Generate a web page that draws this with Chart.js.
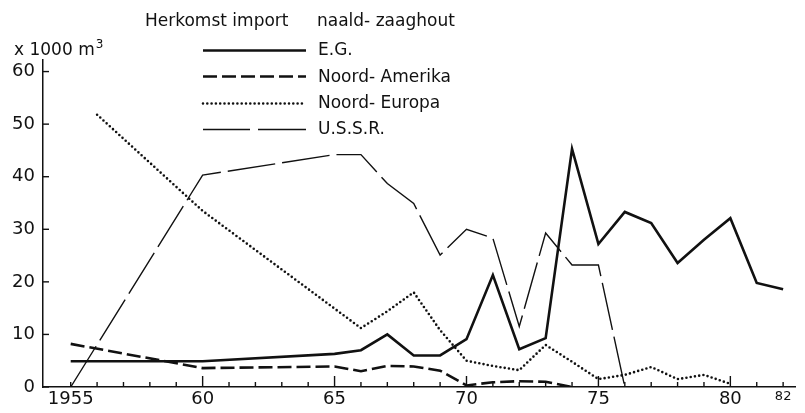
<!DOCTYPE html>
<html>
<head>
<meta charset="utf-8">
<script src="https://cdn.jsdelivr.net/npm/chart.js@4/dist/chart.umd.min.js"></script>
<style>
  html, body { margin: 0; padding: 0; background: #fff; }
  canvas { display: block; }
</style>
</head>
<body>
<canvas id="c" width="805" height="413"></canvas>
<script>
// ---- data (x 1000 m3) ----
const titleLeft = "Herkomst import";
const titleRight = "naald- zaaghout";
const yAxisLabel = "x 1000 m";
const seriesNames = ["E.G.", "Noord- Amerika", "Noord- Europa", "U.S.S.R."];

const egYears  = [1955, 1960, 1965, 1966, 1967, 1968, 1969, 1970, 1971, 1972, 1973, 1974, 1975, 1976, 1977, 1978, 1979, 1980, 1981, 1982];
const egValues = [4.9, 4.9, 6.3, 7.0, 10.0, 6.0, 6.0, 9.1, 21.3, 7.2, 9.3, 45.3, 27.2, 33.3, 31.2, 23.6, 28.0, 32.1, 19.8, 18.6];

const naYears  = [1955, 1960, 1965, 1966, 1967, 1968, 1969, 1970, 1971, 1972, 1973, 1974];
const naValues = [8.2, 3.6, 3.9, 3.0, 4.0, 3.9, 3.1, 0.3, 0.9, 1.1, 1.0, 0.0];

const neYears  = [1956, 1960, 1966, 1967, 1968, 1969, 1970, 1971, 1972, 1973, 1974, 1975, 1976, 1977, 1978, 1979, 1980];
const neValues = [51.8, 33.5, 11.2, 14.4, 18.0, 10.8, 5.0, 4.0, 3.2, 8.0, 4.8, 1.5, 2.3, 3.8, 1.5, 2.3, 0.6];

const suYears  = [1955, 1960, 1965, 1966, 1967, 1968, 1969, 1970, 1971, 1972, 1973, 1974, 1975, 1976];
const suValues = [0.0, 40.3, 44.2, 44.2, 38.7, 34.9, 25.1, 30.0, 28.3, 11.5, 29.3, 23.2, 23.2, 0.0];

const xTickYears  = [1955, 1960, 1965, 1970, 1975, 1980, 1982];
const xTickLabels = ["1955", "60", "65", "70", "75", "80", "82"];
const yTickValues = [0, 10, 20, 30, 40, 50, 60];

// ---- styles ----
const INK = '#111';
const FONT = "'DejaVu Sans', 'Liberation Sans', sans-serif";
const styles = [
  { borderWidth: 2.6, borderDash: [], borderCapStyle: 'butt' },
  { borderWidth: 2.6, borderDash: [14, 5], borderCapStyle: 'butt' },
  { borderWidth: 2.6, borderDash: [0, 4.3], borderCapStyle: 'round' },
  { borderWidth: 1.4, borderDash: [48, 7], borderCapStyle: 'butt' }
];
// legend sample segments (start/end pairs within the 203..306 sample) for the long-dash style
const legendDashSegments = [[203, 250], [258, 306]];

function pts(xs, ys) { return xs.map((x, i) => ({ x: x, y: ys[i] })); }

const seriesData = [pts(egYears, egValues), pts(naYears, naValues), pts(neYears, neValues), pts(suYears, suValues)];

const datasets = seriesData.map((d, i) => Object.assign({
  label: seriesNames[i],
  data: d,
  borderColor: INK,
  backgroundColor: INK,
  pointRadius: 0,
  tension: 0,
  fill: false,
  borderJoinStyle: 'miter'
}, styles[i]));

const decorPlugin = {
  id: 'decor',
  afterDraw(chart) {
    const ctx = chart.ctx;
    const xs = chart.scales.x, ys = chart.scales.y;
    const area = chart.chartArea;
    ctx.save();
    ctx.strokeStyle = INK;
    ctx.fillStyle = INK;
    // x tick marks (inward)
    ctx.lineWidth = 1.4;
    for (let yr = 1955; yr <= 1982; yr++) {
      const px = xs.getPixelForValue(yr);
      const major = (yr % 5 === 0 && yr !== 1955);
      const len = major ? 11 : 5;
      ctx.beginPath();
      ctx.moveTo(px, area.bottom);
      ctx.lineTo(px, area.bottom - len);
      ctx.stroke();
    }
    // y tick marks (inward)
    yTickValues.forEach(v => {
      const py = ys.getPixelForValue(v);
      ctx.beginPath();
      ctx.moveTo(area.left, py);
      ctx.lineTo(area.left + 6, py);
      ctx.stroke();
    });
    // y axis unit label
    ctx.textBaseline = 'alphabetic';
    ctx.textAlign = 'left';
    ctx.font = "17px " + FONT;
    ctx.fillText(yAxisLabel, 14, 55);
    const w = ctx.measureText(yAxisLabel).width;
    ctx.font = "12px " + FONT;
    ctx.fillText("3", 14 + w + 1, 48);
    // title
    ctx.font = "17px " + FONT;
    ctx.fillText(titleLeft, 145, 26);
    ctx.fillText(titleRight, 317, 26);
    // legend
    const baselines = [55, 81.5, 108, 134];
    seriesNames.forEach((name, i) => {
      const st = styles[i];
      const ly = Math.round(baselines[i] - 5.5) + 0.5;
      ctx.save();
      ctx.lineWidth = st.borderWidth;
      ctx.lineCap = st.borderCapStyle;
      if (i === 3) {
        ctx.setLineDash([]);
        legendDashSegments.forEach(seg => {
          ctx.beginPath();
          ctx.moveTo(seg[0], ly);
          ctx.lineTo(seg[1], ly);
          ctx.stroke();
        });
      } else {
        ctx.setLineDash(st.borderDash.slice());
        ctx.beginPath();
        ctx.moveTo(203, ly);
        ctx.lineTo(306, ly);
        ctx.stroke();
      }
      ctx.restore();
      ctx.fillText(name, 318, baselines[i]);
    });
    ctx.restore();
  }
};

new Chart(document.getElementById('c'), {
  type: 'line',
  data: { datasets: datasets },
  options: {
    responsive: false,
    animation: false,
    devicePixelRatio: 1,
    layout: { padding: { top: 60, right: 10, left: 0, bottom: 0 } },
    plugins: { legend: { display: false }, tooltip: { enabled: false }, title: { display: false } },
    scales: {
      x: {
        type: 'linear',
        min: 1953.95,
        max: 1982.45,
        afterBuildTicks: s => { s.ticks = xTickYears.map(v => ({ value: v })); },
        afterFit: s => { s.height = 26; },
        grid: { display: false, drawTicks: false },
        border: { display: true, color: INK, width: 1.5 },
        ticks: {
          autoSkip: false,
          maxRotation: 0,
          minRotation: 0,
          padding: 1.5,
          color: INK,
          font: c => (c.tick && c.tick.value === 1982) ? { family: FONT, size: 13 } : { family: FONT, size: 18 },
          callback: v => { const i = xTickYears.indexOf(v); return i >= 0 ? xTickLabels[i] : ''; }
        }
      },
      y: {
        min: 0,
        max: 62.2,
        afterBuildTicks: s => { s.ticks = yTickValues.map(v => ({ value: v })); },
        afterFit: s => { s.width = 43; },
        grid: { display: false, drawTicks: false },
        border: { display: true, color: INK, width: 1.5 },
        ticks: { padding: 8, color: INK, font: { family: FONT, size: 18 } }
      }
    }
  },
  plugins: [decorPlugin]
});
</script>
</body>
</html>
